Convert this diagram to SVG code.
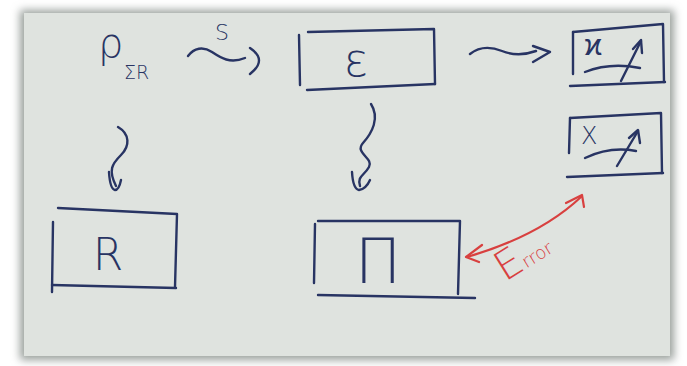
<svg xmlns="http://www.w3.org/2000/svg" width="687" height="366" viewBox="0 0 687 366">
  <defs>
    <filter id="soft" x="-5%" y="-5%" width="110%" height="110%">
      <feGaussianBlur stdDeviation="4"/>
    </filter>
    <style>
      .pen { fill: none; stroke: #283463; stroke-width: 2.4; stroke-linecap: round; stroke-linejoin: round; }
      .red { fill: none; stroke: #d8403f; stroke-width: 2.2; stroke-linecap: round; stroke-linejoin: round; }
      .hw { font-family: "DejaVu Sans", "Liberation Sans", sans-serif; font-weight: 200; fill: #283463; }
      .hwr { font-family: "DejaVu Sans", "Liberation Sans", sans-serif; font-weight: 200; fill: #d8403f; }
    </style>
  </defs>

  <!-- background -->
  <rect x="0" y="0" width="687" height="366" fill="#ffffff"/>
  <rect x="20" y="10" width="654" height="350" fill="#9aa09c" filter="url(#soft)"/>
  <rect x="24" y="13" width="646" height="343" fill="#dfe3df"/>

  <!-- connectors -->
  <g id="connectors">
    <!-- source -> encoder (S) -->
    <path class="pen" d="M188,56 C194,48 203,46 212,52 S230,64 245,58"/>
    <path class="pen" d="M250,48 Q268,60 250,74"/>
    <text class="hw" x="222" y="40" font-size="22" text-anchor="middle">S</text>
    <!-- encoder -> top right -->
    <path class="pen" d="M470,54 C480,46 492,47 502,51 S522,56 536,51"/>
    <path class="pen" d="M533,46 L550,52 L533,62"/>
    <!-- source -> receiver -->
    <path class="pen" d="M118,127 C130,134 130,146 121,155 S108,170 116,186"/>
    <path class="pen" d="M109,172 Q110,189 115,190 Q119,190 121,180"/>
    <!-- encoder -> decoder -->
    <path class="pen" d="M371,104 C380,118 372,133 363,143 S374,158 369,167 S357,176 360,186"/>
    <path class="pen" d="M352,172 Q353,189 359,190 Q366,189 370,180"/>
    <!-- error double arrow -->
    <path class="red" d="M467,257 C505,246 548,228 581,197"/>
    <path class="red" d="M482,245 L466,257 L479,262"/>
    <path class="red" d="M566,203 L582,195 L584,207"/>
    <text class="hwr" transform="rotate(-32 505 282)" x="505" y="282" font-size="40">E<tspan font-size="18">rror</tspan></text>
  </g>

  <!-- source node -->
  <g id="source">
    <text class="hw" x="98" y="57" font-size="40">ρ</text>
    <text class="hw" x="124" y="79" font-size="19">ΣR</text>
  </g>

  <!-- encoder node -->
  <g id="encoder">
    <path class="pen" d="M299,35 L300,85"/>
    <path class="pen" d="M308,32 L434,29 L435,84"/>
    <path class="pen" d="M307,90 L435,84"/>
    <text class="hw" x="356" y="76" font-size="46" text-anchor="middle">ε</text>
  </g>

  <!-- top right node -->
  <g id="output-top">
    <path class="pen" d="M573,32 L573,74"/>
    <path class="pen" d="M573,32 L663,24 L664,82"/>
    <path class="pen" d="M570,86 L665,82"/>
    <text class="hw" x="584" y="55" font-size="30">ϰ</text>
    <path class="pen" d="M585,72 Q610,62 640,68"/>
    <path class="pen" d="M621,81 L641,41"/>
    <path class="pen" d="M633,49 L641,40 L642,53"/>
  </g>

  <!-- second right node -->
  <g id="output-bottom">
    <path class="pen" d="M570,118 L569,153"/>
    <path class="pen" d="M570,118 L661,113 L662,173"/>
    <path class="pen" d="M567,177 L663,173"/>
    <text class="hw" x="581" y="144" font-size="24">X</text>
    <path class="pen" d="M585,158 Q610,146 636,151"/>
    <path class="pen" d="M617,166 L638,131"/>
    <path class="pen" d="M629,138 L638,130 L640,143"/>
  </g>

  <!-- receiver node -->
  <g id="receiver">
    <path class="pen" d="M58,208 L177,214 L175,287"/>
    <path class="pen" d="M53,222 L52,292"/>
    <path class="pen" d="M52,285 L176,288"/>
    <text class="hw" x="108" y="270" font-size="44" text-anchor="middle">R</text>
  </g>

  <!-- decoder node -->
  <g id="decoder">
    <path class="pen" d="M318,221 L460,221 L458,294"/>
    <path class="pen" d="M315,224 L314,283"/>
    <path class="pen" d="M318,295 L475,298"/>
    <text class="hw" x="378" y="283" font-size="62" text-anchor="middle">Π</text>
  </g>
</svg>
